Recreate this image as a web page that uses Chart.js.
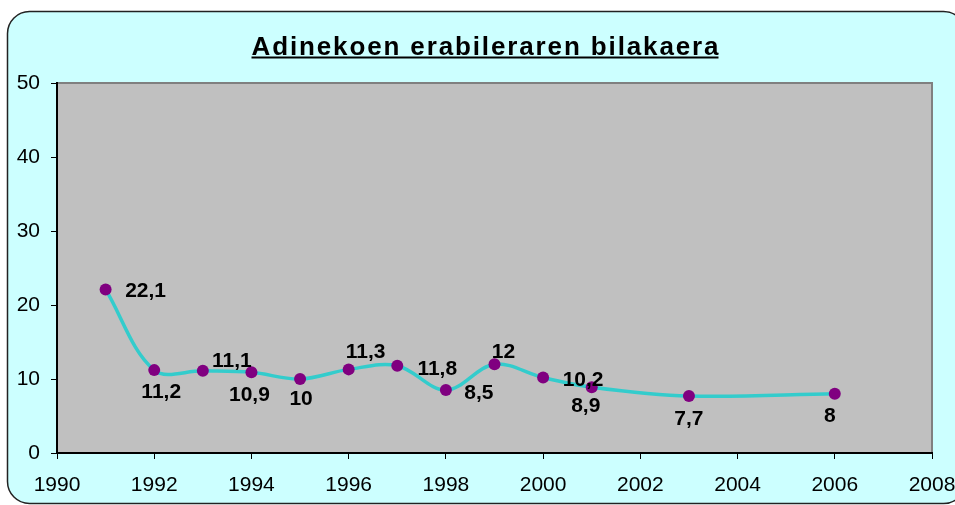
<!DOCTYPE html>
<html>
<head>
<meta charset="utf-8">
<script src="https://cdn.jsdelivr.net/npm/chart.js@4"></script>
<style>
html,body{margin:0;padding:0;background:#fff;}
canvas{display:block;}
</style>
</head>
<body>
<canvas id="c" width="955" height="505" style="width:955px;height:505px"></canvas>
<script>
// ---- data ----
const years  = [1991, 1992, 1993, 1994, 1995, 1996, 1997, 1998, 1999, 2000, 2001, 2003, 2006];
const values = [22.1, 11.2, 11.1, 10.9, 10, 11.3, 11.8, 8.5, 12, 10.2, 8.9, 7.7, 8];
const labels = ["22,1","11,2","11,1","10,9","10","11,3","11,8","8,5","12","10,2","8,9","7,7","8"];
const titleText = "Adinekoen erabileraren bilakaera";
const xTickStep = 2, xMin = 1990, xMax = 2008;
const yTickStep = 10, yMin = 0, yMax = 50;

// label placement (offset of label centre from point), layout only
const labelOffsets = [[40,0],[7,20],[29,-11],[-2,21],[1,18],[17,-19],[40,2],[33,1],[9,-14],[40,1],[-6,17],[0,21],[-5,21]];

const FONT = "'Liberation Sans', Arial, sans-serif";

const bgPlugin = {
  id: 'bg',
  beforeDraw(chart) {
    const ctx = chart.ctx, a = chart.chartArea;
    ctx.save();
    ctx.fillStyle = '#ffffff';
    ctx.fillRect(0, 0, chart.width, chart.height);
    // card
    ctx.beginPath();
    ctx.roundRect(7.5, 11.5, 958, 492, 22);
    ctx.fillStyle = '#CCFFFF';
    ctx.fill();
    ctx.lineWidth = 1.5;
    ctx.strokeStyle = '#222222';
    ctx.stroke();
    // plot area
    ctx.fillStyle = '#C0C0C0';
    ctx.fillRect(a.left, a.top, a.right - a.left, a.bottom - a.top);
    ctx.strokeStyle = '#808080';
    ctx.lineWidth = 2;
    ctx.beginPath();
    ctx.moveTo(a.left, a.top);
    ctx.lineTo(a.right, a.top);
    ctx.lineTo(a.right, a.bottom);
    ctx.stroke();
    // title
    ctx.font = 'bold 26px ' + FONT;
    ctx.letterSpacing = '0px';
    const w0 = ctx.measureText(titleText).width;
    const targetW = 467;
    const sp = Math.max(0, (targetW - w0) / (titleText.length - 1));
    ctx.letterSpacing = sp + 'px';
    const cx = 485, x0 = cx - targetW / 2;
    ctx.fillStyle = '#000';
    ctx.textAlign = 'left';
    ctx.textBaseline = 'alphabetic';
    ctx.fillText(titleText, x0, 54.5);
    ctx.letterSpacing = '0px';
    ctx.fillRect(x0, 56.5, targetW, 2);
    ctx.restore();
  },
  afterDatasetsDraw(chart) {
    const ctx = chart.ctx;
    const meta = chart.getDatasetMeta(0);
    ctx.save();
    ctx.font = 'bold 21px ' + FONT;
    ctx.fillStyle = '#000';
    ctx.textAlign = 'center';
    ctx.textBaseline = 'alphabetic';
    meta.data.forEach((pt, i) => {
      const o = labelOffsets[i];
      ctx.fillText(labels[i], pt.x + o[0], pt.y + o[1] + 7.5);
    });
    ctx.restore();
  }
};

new Chart(document.getElementById('c'), {
  type: 'line',
  data: {
    datasets: [{
      data: years.map((y, i) => ({x: y, y: values[i]})),
      borderColor: '#33CCCC',
      borderWidth: 3.5,
      tension: 0.35,
      pointRadius: 6,
      pointHoverRadius: 6,
      pointBorderWidth: 0,
      pointBackgroundColor: '#800080',
      pointBorderColor: '#800080',
      fill: false
    }]
  },
  options: {
    responsive: false,
    animation: false,
    devicePixelRatio: 1,
    layout: { padding: { top: 83, right: 23, bottom: 0, left: 0 } },
    plugins: { legend: { display: false }, title: { display: false }, tooltip: { enabled: false } },
    scales: {
      x: {
        type: 'linear', min: xMin, max: xMax,
        afterFit(s) { s.height = 52; s.paddingLeft = 0; s.paddingRight = 0; },
        grid: { drawOnChartArea: false, drawTicks: true, tickLength: 6, color: '#000', tickWidth: 1 },
        border: { color: '#000', width: 2 },
        ticks: { stepSize: xTickStep, callback: v => String(v), color: '#000', font: { family: FONT, size: 21 }, padding: 14, maxRotation: 0, autoSkip: false }
      },
      y: {
        min: yMin, max: yMax,
        afterFit(s) { s.width = 57; s.paddingTop = 0; s.paddingBottom = 0; },
        grid: { drawOnChartArea: false, drawTicks: true, tickLength: 6, color: '#000', tickWidth: 1 },
        border: { color: '#000', width: 2 },
        ticks: { stepSize: yTickStep, color: '#000', font: { family: FONT, size: 21 }, padding: 11 }
      }
    }
  },
  plugins: [bgPlugin]
});
</script>
</body>
</html>
